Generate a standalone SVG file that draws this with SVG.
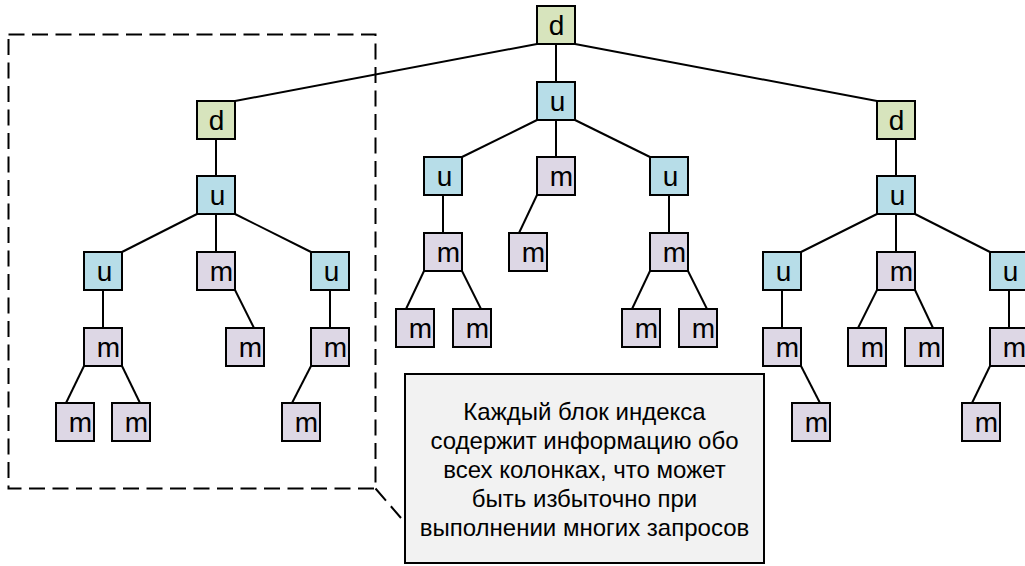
<svg xmlns="http://www.w3.org/2000/svg" width="1025" height="566" viewBox="0 0 1025 566">
<style>
.n rect{stroke:#000;stroke-width:2}
.d rect{fill:#d7e4bd}
.u rect{fill:#b7dde8}
.m rect{fill:#ddd7e5}
.n text{font-family:"Liberation Sans",Arial,sans-serif;font-size:28px;fill:#000;text-anchor:middle}
#edges line{stroke:#000;stroke-width:2}
.dash{fill:none;stroke:#000;stroke-width:2;stroke-dasharray:16 7.5}
.note rect{fill:#f2f2f2;stroke:#000;stroke-width:2}
.note text{font-family:"Liberation Sans",Arial,sans-serif;font-size:24px;fill:#000;text-anchor:middle}
</style>
<rect width="1025" height="566" fill="#fff"/>
<g id="edges">
<line x1="537" y1="44" x2="235" y2="101"/>
<line x1="556" y1="44" x2="556" y2="82"/>
<line x1="575" y1="44" x2="877" y2="101"/>
<line x1="216" y1="139" x2="216" y2="176"/>
<line x1="896" y1="139" x2="896" y2="176"/>
<line x1="197" y1="214" x2="122" y2="252"/>
<line x1="216" y1="214" x2="216" y2="252"/>
<line x1="235" y1="214" x2="311" y2="252"/>
<line x1="537" y1="120" x2="462" y2="157"/>
<line x1="556" y1="120" x2="556" y2="157"/>
<line x1="575" y1="120" x2="650" y2="157"/>
<line x1="877" y1="214" x2="801" y2="252"/>
<line x1="896" y1="214" x2="896" y2="252"/>
<line x1="915" y1="214" x2="990" y2="252"/>
<line x1="103" y1="290" x2="103" y2="328"/>
<line x1="330" y1="290" x2="330" y2="328"/>
<line x1="443" y1="195" x2="443" y2="233"/>
<line x1="669" y1="195" x2="669" y2="233"/>
<line x1="782" y1="290" x2="782" y2="328"/>
<line x1="1009" y1="290" x2="1009" y2="328"/>
<line x1="235" y1="290" x2="254" y2="328"/>
<line x1="537" y1="195" x2="519" y2="233"/>
<line x1="877" y1="290" x2="858" y2="328"/>
<line x1="915" y1="290" x2="933" y2="328"/>
<line x1="801" y1="366" x2="820" y2="403"/>
<line x1="990" y1="366" x2="972" y2="403"/>
<line x1="84" y1="366" x2="66" y2="403"/>
<line x1="122" y1="366" x2="140" y2="403"/>
<line x1="311" y1="366" x2="292" y2="403"/>
<line x1="424" y1="271" x2="406" y2="309"/>
<line x1="462" y1="271" x2="481" y2="309"/>
<line x1="650" y1="271" x2="632" y2="309"/>
<line x1="688" y1="271" x2="707" y2="309"/>
</g>
<g id="group-box">
<path class="dash" d="M8.5 34.5 H375.5 V488.5 H8.5 Z"/>
<path class="dash" d="M375.5 488.5 L401 518"/>
</g>
<g id="root" class="n d"><rect x="537" y="6" width="38" height="38"/><text x="556.5" y="35">d</text></g>
<g id="mid-u" class="n u"><rect x="537" y="82" width="38" height="38"/><text x="557.5" y="111">u</text></g>
<g id="mid-u1" class="n u"><rect x="424" y="157" width="38" height="38"/><text x="444.5" y="186">u</text></g>
<g id="mid-m2" class="n m"><rect x="537" y="157" width="38" height="38"/><text x="561.5" y="186">m</text></g>
<g id="mid-u3" class="n u"><rect x="650" y="157" width="38" height="38"/><text x="670.5" y="186">u</text></g>
<g id="mid-m11" class="n m"><rect x="424" y="233" width="38" height="38"/><text x="448.5" y="262">m</text></g>
<g id="mid-m21" class="n m"><rect x="509" y="233" width="38" height="38"/><text x="533.5" y="262">m</text></g>
<g id="mid-m31" class="n m"><rect x="650" y="233" width="38" height="38"/><text x="674.5" y="262">m</text></g>
<g id="mid-m111" class="n m"><rect x="396" y="309" width="38" height="38"/><text x="420.5" y="338">m</text></g>
<g id="mid-m112" class="n m"><rect x="453" y="309" width="38" height="38"/><text x="477.5" y="338">m</text></g>
<g id="mid-m311" class="n m"><rect x="622" y="309" width="38" height="38"/><text x="646.5" y="338">m</text></g>
<g id="mid-m312" class="n m"><rect x="679" y="309" width="38" height="38"/><text x="703.5" y="338">m</text></g>
<g id="left-d" class="n d"><rect x="197" y="101" width="38" height="38"/><text x="216.5" y="130">d</text></g>
<g id="left-u" class="n u"><rect x="197" y="176" width="38" height="38"/><text x="217.5" y="205">u</text></g>
<g id="left-u1" class="n u"><rect x="84" y="252" width="38" height="38"/><text x="104.5" y="281">u</text></g>
<g id="left-m2" class="n m"><rect x="197" y="252" width="38" height="38"/><text x="221.5" y="281">m</text></g>
<g id="left-u3" class="n u"><rect x="311" y="252" width="38" height="38"/><text x="331.5" y="281">u</text></g>
<g id="left-m11" class="n m"><rect x="84" y="328" width="38" height="38"/><text x="108.5" y="357">m</text></g>
<g id="left-m21" class="n m"><rect x="226" y="328" width="38" height="38"/><text x="250.5" y="357">m</text></g>
<g id="left-m31" class="n m"><rect x="311" y="328" width="38" height="38"/><text x="335.5" y="357">m</text></g>
<g id="left-m111" class="n m"><rect x="56" y="403" width="38" height="38"/><text x="80.5" y="432">m</text></g>
<g id="left-m112" class="n m"><rect x="112" y="403" width="38" height="38"/><text x="136.5" y="432">m</text></g>
<g id="left-m311" class="n m"><rect x="282" y="403" width="38" height="38"/><text x="306.5" y="432">m</text></g>
<g id="right-d" class="n d"><rect x="877" y="101" width="38" height="38"/><text x="896.5" y="130">d</text></g>
<g id="right-u" class="n u"><rect x="877" y="176" width="38" height="38"/><text x="897.5" y="205">u</text></g>
<g id="right-u1" class="n u"><rect x="763" y="252" width="38" height="38"/><text x="783.5" y="281">u</text></g>
<g id="right-m2" class="n m"><rect x="877" y="252" width="38" height="38"/><text x="901.5" y="281">m</text></g>
<g id="right-u3" class="n u"><rect x="990" y="252" width="38" height="38"/><text x="1010.5" y="281">u</text></g>
<g id="right-m11" class="n m"><rect x="763" y="328" width="38" height="38"/><text x="787.5" y="357">m</text></g>
<g id="right-m21" class="n m"><rect x="848" y="328" width="38" height="38"/><text x="872.5" y="357">m</text></g>
<g id="right-m22" class="n m"><rect x="905" y="328" width="38" height="38"/><text x="929.5" y="357">m</text></g>
<g id="right-m31" class="n m"><rect x="990" y="328" width="38" height="38"/><text x="1014.5" y="357">m</text></g>
<g id="right-m111" class="n m"><rect x="792" y="403" width="38" height="38"/><text x="816.5" y="432">m</text></g>
<g id="right-m311" class="n m"><rect x="962" y="403" width="38" height="38"/><text x="986.5" y="432">m</text></g>
<g id="note" class="note">
<rect x="405" y="374" width="359" height="189"/>
<text x="584.5" y="420">Каждый блок индекса</text>
<text x="584.5" y="449">содержит информацию обо</text>
<text x="584.5" y="478">всех колонках, что может</text>
<text x="584.5" y="507">быть избыточно при</text>
<text x="584.5" y="536">выполнении многих запросов</text>
</g>
</svg>
